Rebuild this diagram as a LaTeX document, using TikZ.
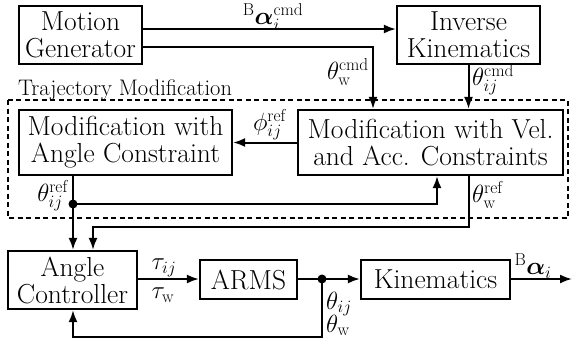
\documentclass[tikz,border=0pt]{standalone}
\usepackage{amsmath}
\usepackage{bm}
\usetikzlibrary{arrows.meta}
\begin{document}
\begin{tikzpicture}[x=1pt,y=-1pt,
  blk/.style={draw,line width=2.2pt,inner sep=0pt,align=center,font=\fontsize{27.5}{27}\selectfont},
  arr/.style={line width=2pt,-{Latex[length=12pt,width=9pt]}},
  lbl/.style={inner sep=0pt,font=\fontsize{24}{24}\selectfont},
  dotn/.style={circle,fill,inner sep=0pt,minimum size=9pt}]
\useasboundingbox (0,0) rectangle (573,343);
% blocks
\node[blk,minimum width=123pt,minimum height=58pt] (MG) at (80.5,35) {Motion\\Generator};
\node[blk,minimum width=143pt,minimum height=58pt] (IK) at (468.5,35) {Inverse\\Kinematics};
\node[blk,minimum width=213pt,minimum height=65pt] (MA) at (125.5,142.5) {Modification with\\Angle Constraint};
\node[blk,minimum width=265pt,minimum height=65pt] (MV) at (430.5,142.5) {Modification with Vel.\\and Acc. Constraints};
\node[blk,minimum width=129pt,minimum height=58pt] (AC) at (72.5,280) {Angle\\Controller};
\node[blk,minimum width=97pt,minimum height=39pt] (AR) at (248.5,279.5) {ARMS};
\node[blk,minimum width=149pt,minimum height=39pt] (KI) at (435.5,279.5) {Kinematics};
% dashed region
\draw[line width=1.4pt,dash pattern=on 5pt off 3.5pt] (8,100) rectangle (568,218);
\node[anchor=base west,inner sep=0pt,font=\fontsize{22.5}{22}\selectfont] (TM) at (18,95) {Trajectory Modification};
% coordinates
\coordinate (c1) at (373,47);
\coordinate (c2) at (437,204);
\coordinate (c3) at (469,227);
\coordinate (c4) at (93,227);
\coordinate (c5) at (322,337);
\coordinate (out) at (572,279);
\node[dotn] (d1) at (73,204) {};
\node[dotn] (d2) at (322,279) {};
% connectors
\draw[arr] ([yshift=6pt]MG.east) -- ([yshift=6pt]IK.west);
\draw[arr] ([yshift=-12pt]MG.east) -| (c1 |- MV.north);
\draw[arr] (IK.south) -- (IK.south |- MV.north);
\draw[arr] (MV.west) -- (MA.east);
\draw[arr] (d1 |- MA.south) -- (d1.center) -- (d1 |- AC.north);
\draw[arr] (d1.center) -- (c2) -- (c2 |- MV.south);
\draw[arr] (c3 |- MV.south) -- (c3) -- (c4) -- (c4 |- AC.north);
\draw[arr] (AC.east |- d2) -- (AR.west |- d2);
\draw[arr] (AR.east |- d2) -- (KI.west |- d2);
\draw[arr] (KI.east |- d2) -- (out);
\draw[arr] (d2.center) -- (c5) -- (d1 |- c5) -- (d1 |- AC.south);
% labels
\node[lbl] (l1) at (273,17) {${}^{\mathrm{B}}\bm{\alpha}_i^{\mathrm{cmd}}$};
\node[lbl,anchor=east] (l2) at (369,72) {$\theta_{\mathrm{w}}^{\mathrm{cmd}}$};
\node[lbl,anchor=west] (l3) at (472,80) {$\theta_{ij}^{\mathrm{cmd}}$};
\node[lbl] (l4) at (270,125) {$\phi_{ij}^{\mathrm{ref}}$};
\node[lbl,anchor=east] (l5) at (69,196) {$\theta_{ij}^{\mathrm{ref}}$};
\node[lbl,anchor=west] (l6) at (472,195) {$\theta_{\mathrm{w}}^{\mathrm{ref}}$};
\node[lbl] (l7) at (164,268) {$\tau_{ij}$};
\node[lbl] (l8) at (163,295) {$\tau_{\mathrm{w}}$};
\node[lbl] (l9) at (533,266) {${}^{\mathrm{B}}\bm{\alpha}_i$};
\node[lbl,anchor=base west] (l10) at (326,309) {$\theta_{ij}$};
\node[lbl,anchor=base west] (l11) at (326,332) {$\theta_{\mathrm{w}}$};
\end{tikzpicture}
\end{document}
